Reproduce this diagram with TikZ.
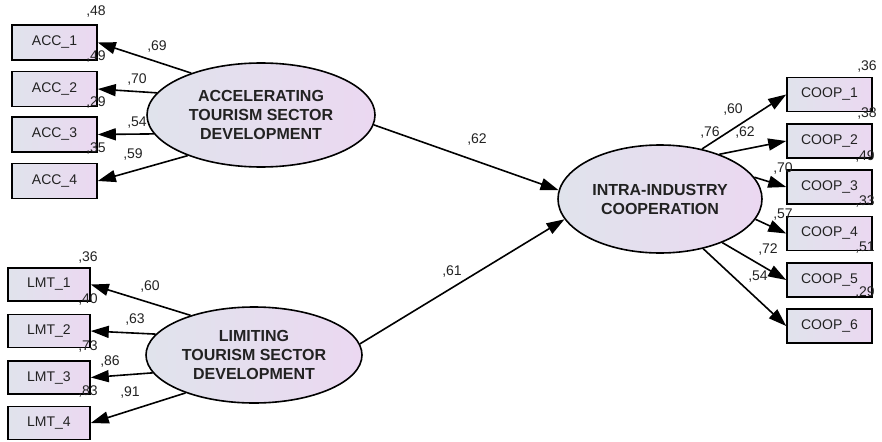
\documentclass[tikz,border=0pt]{standalone}
\usepackage{fontspec}
\setmainfont{Liberation Sans}
\usetikzlibrary{arrows.meta,shapes.geometric}

\definecolor{leftfill}{HTML}{E0E3EC}
\definecolor{rightfill}{HTML}{EBD8F1}
\definecolor{txt}{HTML}{222222}

\begin{document}
\begin{tikzpicture}[x=1pt, y=-1pt,
  obs/.style={draw, line width=1.6pt, left color=leftfill, right color=rightfill,
              minimum width=\boxw pt, minimum height=\boxh pt, inner sep=0pt,
              font=\fontsize{14}{16}\selectfont, text=txt},
  lat/.style={ellipse, draw, line width=1.6pt, left color=leftfill, right color=rightfill, inner sep=0pt},
  lattext/.style={align=center, font=\bfseries\fontsize{16}{19}\selectfont, text=txt, inner sep=0pt},
  arrowline/.style={line width=1.6pt, -{Triangle[length=18pt, width=12pt]}},
  est/.style={font=\fontsize{14}{16}\selectfont, text=txt, inner sep=0pt}
]

% Sizes
\def\boxw{85}
\def\boxh{35}

% Fix the frame
\useasboundingbox (0,0) rectangle (882,441);

% Latent variables
\node[lat, minimum width=228pt, minimum height=104pt,
      label={[lattext, name=acceltext]center:{ACCELERATING\\TOURISM SECTOR\\DEVELOPMENT}}]
      (accel) at (261,115) {};
\node[lat, minimum width=216pt, minimum height=96pt,
      label={[lattext, name=limittext]center:{LIMITING\\TOURISM SECTOR\\DEVELOPMENT}}]
      (limit) at (254,355) {};
\node[lat, minimum width=204pt, minimum height=108pt,
      label={[lattext, name=cooptext]center:{INTRA-INDUSTRY\\COOPERATION}}]
      (coop) at (660,199) {};

% Accelerating indicators
\foreach \i/\y/\a in {1/42.5/149, 2/89/168, 3/134.5/190, 4/181/209} {
  \node[obs] (acc\i) at (54.5,\y) {ACC\_\i};
  \draw[arrowline] (accel.\a) -- (acc\i.east);
}

% Limiting indicators
\foreach \i/\y/\a in {1/284.5/148, 2/331/168, 3/377.5/190, 4/423/209} {
  \node[obs, minimum width=82pt, minimum height=33pt] (lmt\i) at (49,\y) {LMT\_\i};
  \draw[arrowline] (limit.\a) -- (lmt\i.east);
}

% Cooperation indicators
\foreach \i/\y/\a in {1/94.5/50, 2/141/37, 3/187/13, 4/233.5/348, 5/280/325, 6/326/311} {
  \node[obs, minimum height=34pt] (coop\i) at (829.5,\y) {COOP\_\i};
  \draw[arrowline] (coop.\a) -- (coop\i.west);
}

% Structural paths
\draw[arrowline] (accel.355) -- (coop.175);
\draw[arrowline] (limit.6) -- (coop.192);

% Estimates
\foreach \i/\x/\y/\v in {1/96/12/48, 2/96/57/49, 3/96/103/29, 4/96/149/35} {
  \node[est] (accvar\i) at (\x,\y) {,\v};
}
\foreach \i/\x/\y/\v in {1/157/47/69, 2/137/80/70, 3/137/123/54, 4/133/155/59} {
  \node[est] (accload\i) at (\x,\y) {,\v};
}
\foreach \i/\x/\y/\v in {1/88/258/36, 2/88/300/40, 3/88/347/73, 4/88/392/83} {
  \node[est] (lmtvar\i) at (\x,\y) {,\v};
}
\foreach \i/\x/\y/\v in {1/150/287/60, 2/135/320/63, 3/110/362/86, 4/130/393/91} {
  \node[est] (lmtload\i) at (\x,\y) {,\v};
}
\foreach \i/\x/\y/\v in {1/867/67/36, 2/867/114/38, 3/865/157/49, 4/865/202/33, 5/865/248/51, 6/865/293/29} {
  \node[est] (coopvar\i) at (\x,\y) {,\v};
}
\foreach \i/\x/\y/\v in {1/733/110/60, 2/745/133/62, 3/783/169/70, 4/783/215/57, 5/768/250/72, 6/758/277/54} {
  \node[est] (coopload\i) at (\x,\y) {,\v};
}
\node[est] (coopvar) at (710,133) {,76};
\node[est] (accpath) at (477,140) {,62};
\node[est] (limitpath) at (452,272) {,61};

\end{tikzpicture}
\end{document}
